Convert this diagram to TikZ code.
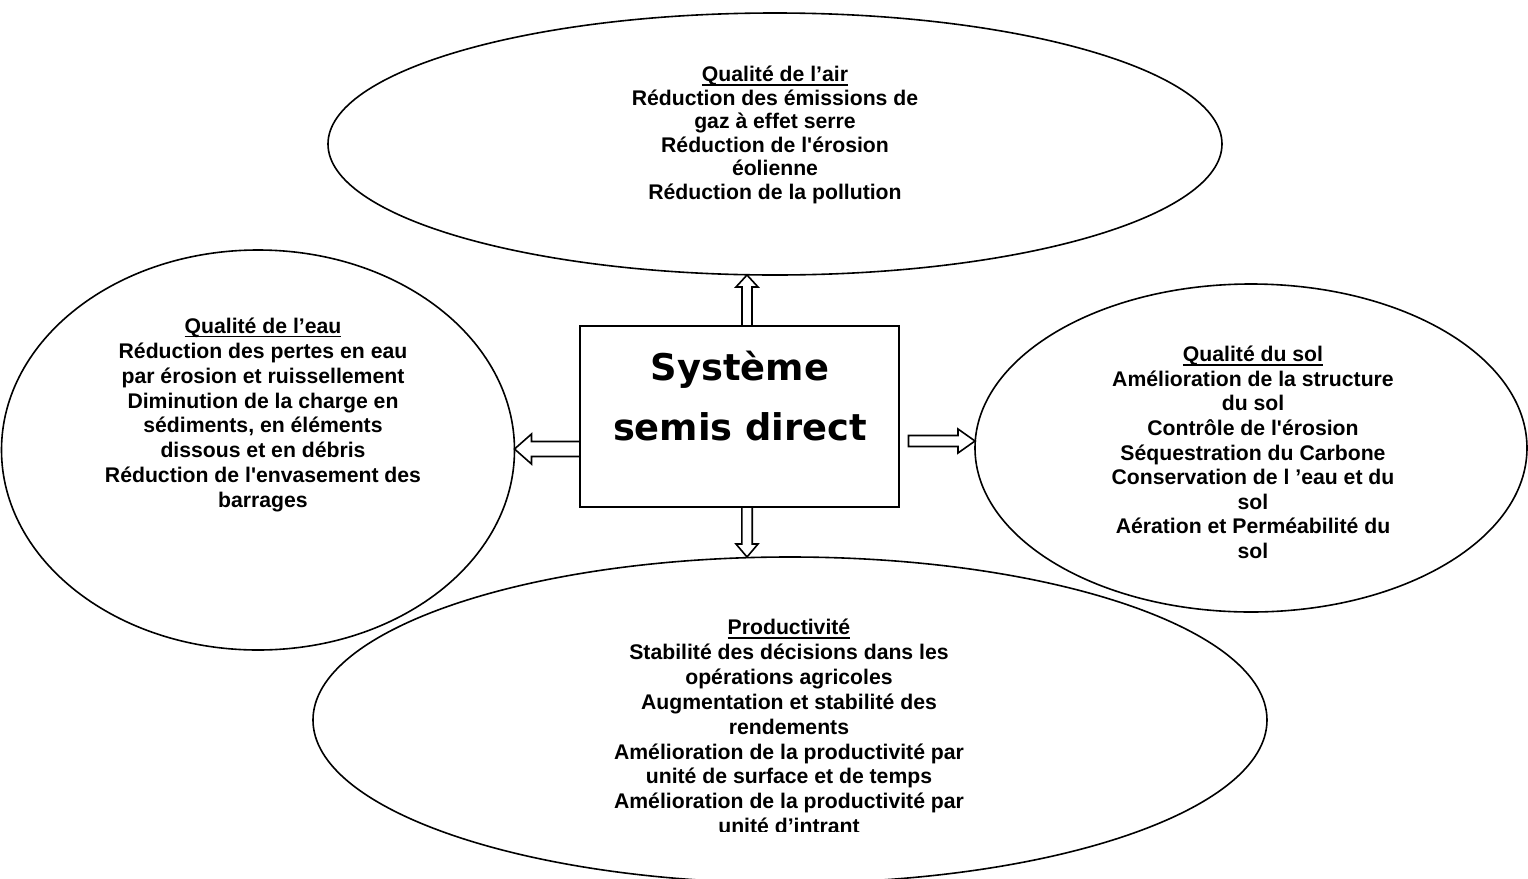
\documentclass[tikz,border=0pt]{standalone}
\usepackage{fontspec}
\setmainfont{Liberation Sans}[Ligatures=TeXOff]
\newfontfamily\heavyfont{DejaVu Sans}
\usetikzlibrary{shapes.geometric,calc}
\newcommand\myul[1]{\setbox0\hbox{#1}\rlap{\rule[-2pt]{\wd0}{0.9pt}}\box0}
\newcommand\hollowarrow[5]{%
  \coordinate (hb) at ($(#2)!#5!(#1)$);
  \draw[blockarrow] ($(#1)!#3!90:(#2)$) -- ($(hb)!#3!90:(#2)$) -- ($(hb)!#4!90:(#2)$) -- (#2)
    -- ($(hb)!#4!-90:(#2)$) -- ($(hb)!#3!-90:(#2)$) -- ($(#1)!#3!-90:(#2)$) -- cycle;}
\tikzset{
  oval/.style={ellipse, draw, fill=white, inner sep=0pt, outer sep=0pt, line width=0.8pt},
  txt/.style={align=center, inner sep=0pt, font=\fontsize{10.6}{12.3}\selectfont\bfseries},
  sysbox/.style={rectangle, draw, fill=white, inner sep=0pt, outer sep=0pt, line width=0.8pt,
    minimum width=159.5pt, minimum height=90.5pt},
  systxt/.style={align=center, inner sep=0pt, font=\heavyfont\fontsize{18.4}{30}\selectfont\bfseries},
  blockarrow/.style={draw, fill=white, line width=0.8pt, line join=miter}
}
\begin{document}
\begin{tikzpicture}[x=0.5pt, y=-0.5pt]
\useasboundingbox (0,0) rectangle (1528,879);
% ellipses
\node[oval, minimum width=256.5pt, minimum height=200pt] (eau) at (258,450) {};
\node[oval, minimum width=276pt, minimum height=164pt] (sol) at (1251,448) {};
\node[oval, minimum width=447pt, minimum height=131pt] (air) at (775,144) {};
\node[oval, minimum width=477pt, minimum height=163pt] (prod) at (790,720) {};
% texts
\node[txt, font=\fontsize{10.6}{11.8}\selectfont\bfseries] (airtxt) at (775,135) {\myul{Qualité de l’air}\\Réduction des émissions de\\gaz à effet serre\\Réduction de l'érosion\\éolienne\\Réduction de la pollution};
\node[txt, font=\fontsize{10.6}{12.45}\selectfont\bfseries] (eautxt) at (263,415) {\myul{Qualité de l’eau}\\Réduction des pertes en eau\\par érosion et ruissellement\\Diminution de la charge en\\sédiments, en éléments\\dissous et en débris\\Réduction de l'envasement des\\barrages};
\node[txt] (soltxt) at (1253,452.5) {\myul{Qualité du sol}\\Amélioration de la structure\\du sol\\Contrôle de l'érosion\\Séquestration du Carbone\\Conservation de l ’eau et du\\sol\\Aération et Perméabilité du\\sol};
\begin{scope}
\clip (0,0) rectangle (1528,831);
\node[txt, font=\fontsize{10.6}{12.45}\selectfont\bfseries] (prodtxt) at (789,726.5) {\myul{Productivité}\\Stabilité des décisions dans les\\opérations agricoles\\Augmentation et stabilité des\\rendements\\Amélioration de la productivité par\\unité de surface et de temps\\Amélioration de la productivité par\\unité d’intrant};
\end{scope}
% central box
\node[sysbox] (box) at (739.5,416.5) {};
\node[systxt] (boxtxt) at (740,396) {Système\\semis direct};
% arrow end points
\coordinate (upS) at ($(box.north)+(7.5,0)$);
\coordinate (upE) at (upS |- air.south);
\coordinate (dnS) at ($(box.south)+(7.5,0)$);
\coordinate (dnE) at (dnS |- prod.north);
\coordinate (ltS) at ($(box.west)+(0,32.5)$);
\coordinate (ltE) at (eau.east |- ltS);
\coordinate (rtS) at ($(box.east)+(9.5,24.5)$);
\coordinate (rtE) at (sol.west |- rtS);
% hollow arrows
\hollowarrow{upS}{upE}{2.5pt}{5.5pt}{6pt}
\hollowarrow{dnS}{dnE}{2.6pt}{5.5pt}{6.5pt}
\hollowarrow{ltS}{ltE}{3.75pt}{7.5pt}{8.5pt}
\hollowarrow{rtS}{rtE}{2.75pt}{6pt}{8.5pt}
\end{tikzpicture}
\end{document}
